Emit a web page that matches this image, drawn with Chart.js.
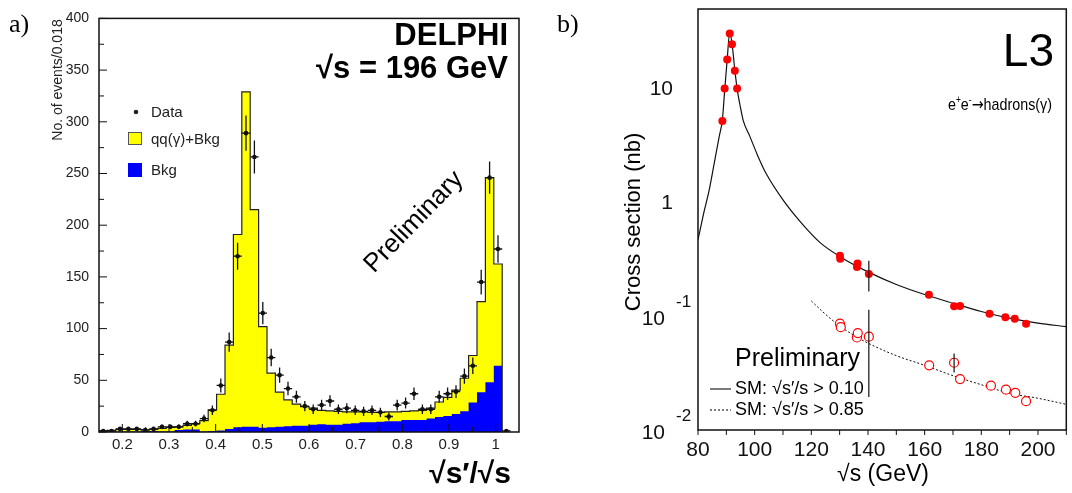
<!DOCTYPE html>
<html>
<head>
<meta charset="utf-8">
<script src="https://cdn.jsdelivr.net/npm/chart.js@4.4.1/dist/chart.umd.min.js"></script>
<style>
  body { margin: 0; background: #fff; width: 1072px; height: 493px; overflow: hidden; position: relative; }
  canvas { position: absolute; top: 0; }
  #histChart { left: 0; }
  #xsecChart { left: 540px; }
</style>
</head>
<body>
<canvas id="histChart" width="540" height="493"></canvas>
<canvas id="xsecChart" width="532" height="493"></canvas>
<script>
// ---- panel a) : DELPHI sqrt(s')/sqrt(s) histogram, bins of 0.018 from 0.15
const binStart = 0.15;
const binWidth = 0.018;
const sumMC = [1, 1.5, 2.5, 2.5, 2.5, 2, 2.5, 3.5, 4.5, 5,
  6.5, 8, 11, 21.5, 36.5, 84, 191, 329, 215, 102,
  57, 38.5, 31, 27, 24.5, 23, 21, 20.5, 20, 19.5,
  19.5, 19.5, 19, 19, 19.5, 19.5, 20, 20.5, 21, 23,
  29, 33.5, 40.5, 52, 74, 126, 246, 162.5];
const bkgMC = [0.5, 0.5, 0.5, 0.5, 0.5, 1, 1, 0.5, 0.5, 2,
  2.5, 2.5, 0.5, 1, 1.5, 3, 4.5, 5, 5, 4,
  4.5, 5, 5.5, 6, 6, 7, 7.5, 7, 7, 8,
  8.5, 9.5, 9.5, 10, 10.5, 10.5, 11.5, 11.5, 11.5, 13,
  14.5, 15.5, 17.5, 20, 28.5, 38.5, 48, 64];
const dataCounts = [1, 1, 3, 3, 3, 2, 3, 5, 5, 5,
  8, 8, 13, 21, 45, 87, 170, 289, 266, 115,
  72, 55, 42, 34, 25, 22, 26, 30, 22, 23,
  21, 20, 21, 19, 15, 26, 28, 37, 22, 22,
  34, 37, 39, 54, 64, 145, 246, 177, 1];
const dataErr = [1, 1, 1.7, 1.7, 1.7, 1.4, 1.7, 2.2, 2.2, 2.2,
  2.8, 2.8, 3.6, 4.6, 6.7, 9.3, 13, 17, 16, 10.7,
  8.5, 7.4, 6.5, 5.8, 5, 4.7, 5.1, 5.5, 4.7, 4.8,
  4.6, 4.5, 4.6, 4.4, 3.9, 5.1, 5.3, 6.1, 4.7, 4.7,
  5.8, 6.1, 6.2, 7.3, 8, 12, 15.7, 13.3, 1];
const histXTicks = [0.2, 0.3, 0.4, 0.5, 0.6, 0.7, 0.8, 0.9, 1];
const histYTicks = [0, 50, 100, 150, 200, 250, 300, 350, 400];

// ---- panel b) : L3 hadronic cross section
const fullE = [88.6, 89.4, 90.3, 91.2, 92.0, 93.0, 93.8,
  130.1, 130.2, 136.1, 136.3, 140.3, 161.5, 170.4, 172.5, 182.9, 188.5, 191.8, 195.8];
const fullSigma = [5.2, 10, 18, 30.5, 24.5, 14.3, 10,
  0.34, 0.32, 0.27, 0.29, 0.235, 0.154, 0.122, 0.123, 0.105, 0.098, 0.095, 0.086];
const openE = [130.1, 130.4, 136.1, 136.4, 140.3, 161.6, 170.4, 172.5, 183.4, 188.7, 192.0, 195.8];
const openSigma = [0.086, 0.080, 0.065, 0.071, 0.066, 0.037, 0.039, 0.028, 0.0245, 0.0226, 0.0212, 0.0179];
const barE = [140.3, 140.3, 170.4];
const barLo = [0.165, 0.0195, 0.032];
const barHi = [0.307, 0.114, 0.047];
const smE = [80, 82, 84, 86, 87.5, 88.6, 89.4, 90.3, 91.2, 92, 93, 93.8, 95, 96, 98.3, 101,
  104, 110, 116, 123, 130, 140, 150, 160, 170, 180, 190, 200, 210];
const smSigma = [0.47, 0.8, 1.3, 2.4, 3.8, 5.3, 9.5, 18, 31, 25, 14.5, 10, 6.8, 5.2, 3.8, 2.6,
  1.8, 1.05, 0.68, 0.445, 0.335, 0.245, 0.19, 0.155, 0.13, 0.11, 0.096, 0.087, 0.081];
const cutE = [120, 125, 130, 135, 140, 150, 160, 170, 180, 190, 200, 210];
const cutSigma = [0.136, 0.104, 0.082, 0.068, 0.058, 0.045, 0.037, 0.030, 0.025, 0.021, 0.019, 0.0168];
const xsecXTicks = [80, 100, 120, 140, 160, 180, 200];
const xsecYTicks = [0.01, 0.1, 1, 10];

const SANS = '"Liberation Sans", Arial, sans-serif';
const SERIF = '"Liberation Serif", "DejaVu Serif", serif';

function histPoints(vals) {
  const pts = vals.map((v, i) => ({x: binStart + i * binWidth, y: v}));
  const end = binStart + vals.length * binWidth;
  pts.push({x: end, y: vals[vals.length - 1]});
  pts.push({x: end, y: 0});
  return pts;
}

const histDecor = {
  id: 'histDecor',
  afterDatasetsDraw(chart) {
    const ctx = chart.ctx, a = chart.chartArea;
    const xs = chart.scales.x, ys = chart.scales.y;
    ctx.save();
    ctx.beginPath(); ctx.rect(a.left, a.top, a.right - a.left, a.bottom - a.top); ctx.clip();
    ctx.strokeStyle = '#111'; ctx.lineWidth = 1.3;
    dataCounts.forEach((n, i) => {
      const cx = binStart + (i + 0.5) * binWidth;
      const px = xs.getPixelForValue(cx), py = ys.getPixelForValue(n);
      ctx.beginPath();
      ctx.moveTo(px, ys.getPixelForValue(n - dataErr[i]));
      ctx.lineTo(px, ys.getPixelForValue(n + dataErr[i]));
      ctx.moveTo(xs.getPixelForValue(cx - binWidth / 2), py);
      ctx.lineTo(xs.getPixelForValue(cx + binWidth / 2), py);
      ctx.stroke();
    });
    ctx.restore();
  },
  afterDraw(chart) {
    const ctx = chart.ctx, a = chart.chartArea;
    const xs = chart.scales.x, ys = chart.scales.y;
    ctx.save();
    // frame and inward ticks
    ctx.strokeStyle = '#111'; ctx.lineWidth = 1.5;
    ctx.strokeRect(a.left, a.top, a.right - a.left, a.bottom - a.top);
    ctx.lineWidth = 1;
    ctx.beginPath();
    for (let v = 0; v <= 400; v += 25) {
      const y = ys.getPixelForValue(v);
      ctx.moveTo(a.left, y); ctx.lineTo(a.left + (v % 50 === 0 ? 8 : 5), y);
    }
    for (let k = 4; k <= 20; k++) {
      const x = xs.getPixelForValue(k * 0.05);
      ctx.moveTo(x, a.bottom); ctx.lineTo(x, a.bottom - (k % 2 === 0 ? 8 : 5));
    }
    ctx.stroke();

    ctx.fillStyle = '#000';
    ctx.font = '26px ' + SERIF; ctx.textAlign = 'left'; ctx.textBaseline = 'alphabetic';
    ctx.fillText('a)', 9, 32);

    ctx.font = 'bold 31px ' + SANS; ctx.textAlign = 'right';
    ctx.fillText('DELPHI', 508, 45);
    ctx.fillText('\u221As = 196 GeV', 508, 78);

    ctx.font = 'bold 30px ' + SANS;
    ctx.fillText('\u221As\u2032/\u221As', 511, 483);

    // legend
    ctx.font = '15px ' + SANS; ctx.textAlign = 'left'; ctx.textBaseline = 'middle';
    ctx.fillStyle = '#222';
    ctx.beginPath(); ctx.arc(136, 112, 2.3, 0, Math.PI * 2); ctx.fill();
    ctx.fillText('Data', 151, 113);
    ctx.fillStyle = '#ffff00'; ctx.fillRect(128, 132, 14, 13);
    ctx.strokeStyle = '#555'; ctx.lineWidth = 1; ctx.strokeRect(128.5, 132.5, 13, 12);
    ctx.fillStyle = '#222'; ctx.fillText('qq(\u03B3)+Bkg', 151, 140);
    ctx.fillStyle = '#0000ff'; ctx.fillRect(128, 163, 14, 14);
    ctx.fillStyle = '#222'; ctx.fillText('Bkg', 151, 171);

    // y title
    ctx.save();
    ctx.translate(58, 80); ctx.rotate(-Math.PI / 2);
    ctx.font = '14px ' + SANS; ctx.textAlign = 'center';
    ctx.fillText('No. of events/0.018', 0, 0);
    ctx.restore();

    // rotated Preliminary
    ctx.save();
    ctx.translate(414, 222); ctx.rotate(-46 * Math.PI / 180);
    ctx.font = '26px ' + SANS; ctx.textAlign = 'center'; ctx.fillStyle = '#000';
    ctx.fillText('Preliminary', 0, 0);
    ctx.restore();
    ctx.restore();
  }
};

new Chart(document.getElementById('histChart'), {
  type: 'scatter',
  data: {
    datasets: [
      {
        label: 'Data',
        data: dataCounts.map((n, i) => ({x: binStart + (i + 0.5) * binWidth, y: n})),
        pointRadius: 2.3, pointBackgroundColor: '#111', pointBorderWidth: 0,
        order: 0
      },
      {
        type: 'line', label: 'Bkg', data: histPoints(bkgMC),
        stepped: true, fill: 'origin', backgroundColor: '#0000ff',
        borderWidth: 0, pointRadius: 0, order: 1
      },
      {
        type: 'line', label: 'qq(γ)+Bkg', data: histPoints(sumMC),
        stepped: true, fill: 'origin', backgroundColor: '#ffff00',
        borderColor: '#222', borderWidth: 1.2, pointRadius: 0, order: 2
      }
    ]
  },
  options: {
    responsive: false, animation: false,
    layout: {padding: {left: 0, right: 21, top: 12, bottom: 0}},
    plugins: {legend: {display: false}, tooltip: {enabled: false}},
    scales: {
      x: {
        type: 'linear', min: 0.15, max: 1.05,
        grid: {display: false, drawTicks: false}, border: {display: false},
        afterBuildTicks: s => { s.ticks = histXTicks.map(v => ({value: v})); },
        afterFit: s => { s.height = 61; },
        ticks: {padding: 4, maxRotation: 0, autoSkip: false, color: '#222',
          font: {family: SANS, size: 15}, callback: v => String(v)}
      },
      y: {
        type: 'linear', min: 0, max: 400,
        grid: {display: false, drawTicks: false}, border: {display: false},
        afterBuildTicks: s => { s.ticks = histYTicks.map(v => ({value: v})); },
        afterFit: s => { s.width = 99; },
        ticks: {padding: 10, color: '#222', font: {family: SANS, size: 14}, callback: v => String(v)}
      }
    }
  },
  plugins: [histDecor]
});

// ---- panel b)
// draws [text, isSuperscript, font] pieces, squeezed to fit between xLeft and xRight
function fitText(ctx, parts, xLeft, xRight, y, size) {
  ctx.textAlign = 'left';
  const fontOf = p => (p[1] ? Math.round(size * 0.6) : size) + 'px ' + (p[2] || SANS);
  let w = 0;
  parts.forEach(p => { ctx.font = fontOf(p); w += ctx.measureText(p[0]).width; });
  const k = (xRight - xLeft) / w;
  ctx.save();
  ctx.translate(xLeft, y); ctx.scale(k, 1);
  let x = 0;
  parts.forEach(p => {
    ctx.font = fontOf(p);
    ctx.fillText(p[0], x, p[1] ? -size * 0.42 : 0);
    x += ctx.measureText(p[0]).width;
  });
  ctx.restore();
}

const xsecDecor = {
  id: 'xsecDecor',
  afterDatasetsDraw(chart) {
    const ctx = chart.ctx;
    const xs = chart.scales.x, ys = chart.scales.y;
    ctx.save();
    ctx.strokeStyle = '#111'; ctx.lineWidth = 1.2;
    ctx.beginPath();
    barE.forEach((e, i) => {
      const px = xs.getPixelForValue(e);
      ctx.moveTo(px, ys.getPixelForValue(barLo[i]));
      ctx.lineTo(px, ys.getPixelForValue(barHi[i]));
    });
    ctx.stroke();
    ctx.restore();
  },
  afterDraw(chart) {
    const ctx = chart.ctx, a = chart.chartArea;
    const xs = chart.scales.x, ys = chart.scales.y;
    ctx.save();
    ctx.strokeStyle = '#111'; ctx.lineWidth = 1.5;
    ctx.strokeRect(a.left, a.top, a.right - a.left, a.bottom - a.top);
    ctx.lineWidth = 1;
    ctx.beginPath();
    for (let v = 80; v <= 210; v += 10) {
      const x = xs.getPixelForValue(v);
      ctx.moveTo(x, a.bottom); ctx.lineTo(x, a.bottom + 5);
    }
    ctx.stroke();

    ctx.fillStyle = '#000';
    ctx.font = '26px ' + SERIF; ctx.textAlign = 'left'; ctx.textBaseline = 'alphabetic';
    ctx.fillText('b)', 17, 32);

    // y tick labels (powers of ten)
    ctx.font = '21px ' + SANS; ctx.fillStyle = '#111'; ctx.textBaseline = 'middle';
    xsecYTicks.forEach(v => {
      const y = ys.getPixelForValue(v) + 1;
      ctx.textAlign = 'right';
      if (v >= 1) {
        ctx.fillText(String(v), 133, y);
      } else {
        ctx.fillText('10', 125, y + 2);
        ctx.textAlign = 'left';
        ctx.font = '17px ' + SANS;
        ctx.fillText(String(Math.round(Math.log10(v))), 136, y - 15);
        ctx.font = '21px ' + SANS;
      }
    });

    ctx.textBaseline = 'alphabetic'; ctx.fillStyle = '#000';
    ctx.font = '46px ' + SANS; ctx.textAlign = 'right';
    ctx.fillText('L3', 514, 66);

    fitText(ctx, [['e', false], ['+', true], ['e', false], ['-', true],
      ['\u2192', false, '"DejaVu Sans", sans-serif'], ['hadrons(\u03B3)', false]], 408, 512, 110, 17);

    ctx.textAlign = 'left';
    ctx.font = '25px ' + SANS;
    ctx.fillText('Preliminary', 195, 366);

    ctx.font = '18px ' + SANS; ctx.textBaseline = 'middle';
    ctx.fillText('SM: \u221As\u2032/s > 0.10', 195, 389);
    ctx.fillText('SM: \u221As\u2032/s > 0.85', 195, 410);
    ctx.lineWidth = 1.1; ctx.strokeStyle = '#111';
    ctx.beginPath(); ctx.moveTo(170, 389); ctx.lineTo(191, 389); ctx.stroke();
    ctx.setLineDash([2, 2]);
    ctx.beginPath(); ctx.moveTo(170, 410); ctx.lineTo(191, 410); ctx.stroke();
    ctx.setLineDash([]);

    ctx.textBaseline = 'alphabetic';
    ctx.font = '23px ' + SANS; ctx.textAlign = 'center';
    ctx.fillText('\u221As (GeV)', 343, 481);

    ctx.save();
    ctx.translate(100, 222); ctx.rotate(-Math.PI / 2);
    ctx.font = '22px ' + SANS; ctx.textAlign = 'center';
    ctx.fillText('Cross section (nb)', 0, 0);
    ctx.restore();
    ctx.restore();
  }
};

new Chart(document.getElementById('xsecChart'), {
  type: 'scatter',
  data: {
    datasets: [
      {
        label: 'data sqrt(s\'/s) > 0.10',
        data: fullE.map((e, i) => ({x: e, y: fullSigma[i]})),
        pointRadius: 4, pointBackgroundColor: '#ff0000', pointBorderWidth: 0, order: 0
      },
      {
        label: 'data sqrt(s\'/s) > 0.85',
        data: openE.map((e, i) => ({x: e, y: openSigma[i]})),
        pointRadius: 4.5, pointBackgroundColor: '#ffffff', pointBorderColor: '#ff0000',
        pointBorderWidth: 1.2, order: 1
      },
      {
        type: 'line', label: 'SM 0.10', data: smE.map((e, i) => ({x: e, y: smSigma[i]})),
        borderColor: '#111', borderWidth: 1.2, pointRadius: 0, cubicInterpolationMode: 'monotone',
        fill: false, order: 2
      },
      {
        type: 'line', label: 'SM 0.85', data: cutE.map((e, i) => ({x: e, y: cutSigma[i]})),
        borderColor: '#111', borderWidth: 1, borderDash: [2, 2], pointRadius: 0,
        cubicInterpolationMode: 'monotone', fill: false, order: 3
      }
    ]
  },
  options: {
    responsive: false, animation: false,
    layout: {padding: {left: 0, right: 2, top: 9, bottom: 0}},
    plugins: {legend: {display: false}, tooltip: {enabled: false}},
    scales: {
      x: {
        type: 'linear', min: 80, max: 210,
        grid: {display: false, drawTicks: false}, border: {display: false},
        afterBuildTicks: s => { s.ticks = xsecXTicks.map(v => ({value: v})); },
        afterFit: s => { s.height = 63; },
        ticks: {padding: 8, maxRotation: 0, autoSkip: false, color: '#111',
          font: {family: SANS, size: 21}, callback: v => String(v)}
      },
      y: {
        type: 'logarithmic', min: 0.01, max: 50,
        grid: {display: false, drawTicks: false}, border: {display: false},
        afterBuildTicks: s => { s.ticks = xsecYTicks.map(v => ({value: v})); },
        afterFit: s => { s.width = 158; },
        ticks: {display: false}
      }
    }
  },
  plugins: [xsecDecor]
});
</script>
</body>
</html>
